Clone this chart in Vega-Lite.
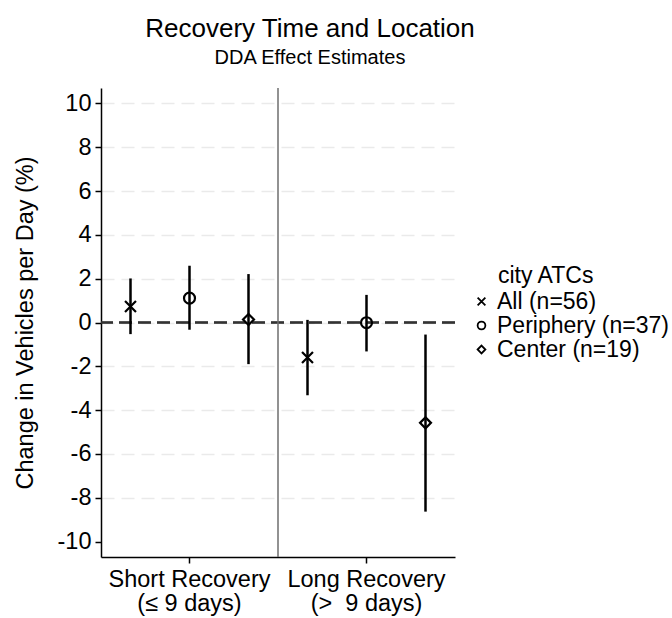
{
  "$schema": "https://vega.github.io/schema/vega-lite/v6.json",
  "autosize": {"type": "none"},
  "width": 354,
  "height": 469,
  "padding": {"left": 101, "top": 88, "right": 217, "bottom": 61},
  "background": "white",
  "config": {
    "font": "Liberation Sans",
    "view": {"stroke": null},
    "axis": {
      "domainColor": "black",
      "domainWidth": 1.5,
      "tickColor": "black",
      "tickWidth": 1.5,
      "tickSize": 6,
      "labelColor": "black",
      "labelFontSize": 23.5,
      "labelFont": "Liberation Sans",
      "titleFont": "Liberation Sans",
      "titleFontSize": 23.5,
      "titleFontWeight": "normal",
      "titleColor": "black"
    }
  },
  "title": {
    "text": "Recovery Time and Location",
    "subtitle": "DDA Effect Estimates",
    "font": "Liberation Sans",
    "subtitleFont": "Liberation Sans",
    "fontSize": 26,
    "subtitleFontSize": 20,
    "fontWeight": "normal",
    "color": "black",
    "subtitleColor": "black",
    "anchor": "middle",
    "dx": 32,
    "offset": 19,
    "subtitlePadding": 6
  },
  "data": {
    "values": [
      {"group": "Short Recovery", "series": "All (n=56)", "est": 0.73, "lo": -0.53, "hi": 2.01},
      {"group": "Short Recovery", "series": "Periphery (n=37)", "est": 1.11, "lo": -0.33, "hi": 2.59},
      {"group": "Short Recovery", "series": "Center (n=19)", "est": 0.14, "lo": -1.9, "hi": 2.21},
      {"group": "Long Recovery", "series": "All (n=56)", "est": -1.6, "lo": -3.32, "hi": 0.12},
      {"group": "Long Recovery", "series": "Periphery (n=37)", "est": -0.01, "lo": -1.32, "hi": 1.26},
      {"group": "Long Recovery", "series": "Center (n=19)", "est": -4.58, "lo": -8.63, "hi": -0.55}
    ]
  },
  "layer": [
    {
      "mark": {"type": "rule", "strokeDash": [13, 6], "color": "#333333", "strokeWidth": 1.5},
      "encoding": {
        "y": {
          "datum": 0,
          "type": "quantitative",
          "scale": {"domain": [-10.7, 10.7], "nice": false, "zero": false},
          "axis": {
            "title": "Change in Vehicles per Day (%)",
            "values": [-10, -8, -6, -4, -2, 0, 2, 4, 6, 8, 10],
            "labelExpr": "'' + datum.value",
            "grid": true,
            "gridColor": {"condition": {"test": "datum.value == -10", "value": "transparent"}, "value": "#eaeaea"},
            "gridDash": [13, 7],
            "gridWidth": 1.5,
            "labelPadding": 4,
            "titlePadding": 20
          }
        }
      }
    },
    {
      "data": {"values": [{"group": "Long Recovery"}]},
      "mark": {"type": "rule", "color": "#6e6e6e", "strokeWidth": 1.5},
      "encoding": {
        "x": {
          "field": "group",
          "type": "nominal",
          "bandPosition": 0,
          "scale": {"type": "band", "domain": ["Short Recovery", "Long Recovery"], "paddingInner": 0, "paddingOuter": 0},
          "axis": {
            "title": null,
            "labelAngle": 0,
            "labelExpr": "datum.value == 'Short Recovery' ? ['Short Recovery', '(≤ 9 days)'] : ['Long Recovery', '(>\u00a0 9 days)']",
            "labelLineHeight": 24,
            "labelPadding": 4,
            "grid": false
          }
        }
      }
    },
    {
      "mark": {"type": "rule", "color": "black", "strokeWidth": 2.5},
      "encoding": {
        "x": {
          "field": "group",
          "type": "nominal",
          "scale": {"type": "band", "domain": ["Short Recovery", "Long Recovery"], "paddingInner": 0, "paddingOuter": 0},
          "axis": {
            "title": null,
            "labelAngle": 0,
            "labelExpr": "datum.value == 'Short Recovery' ? ['Short Recovery', '(≤ 9 days)'] : ['Long Recovery', '(>\u00a0 9 days)']",
            "labelLineHeight": 24,
            "labelPadding": 4,
            "grid": false
          }
        },
        "xOffset": {
          "field": "series",
          "type": "nominal",
          "scale": {"type": "band", "domain": ["All (n=56)", "Periphery (n=37)", "Center (n=19)"], "paddingInner": 0, "paddingOuter": 0}
        },
        "y": {
          "field": "lo",
          "type": "quantitative",
          "scale": {"domain": [-10.7, 10.7], "nice": false, "zero": false},
          "axis": {"title": "Change in Vehicles per Day (%)"}
        },
        "y2": {"field": "hi"}
      }
    },
    {
      "mark": {"type": "point", "filled": false, "color": "black", "strokeWidth": 2.2, "opacity": 1},
      "encoding": {
        "x": {
          "field": "group",
          "type": "nominal",
          "scale": {"type": "band", "domain": ["Short Recovery", "Long Recovery"], "paddingInner": 0, "paddingOuter": 0},
          "axis": {
            "title": null,
            "labelAngle": 0,
            "labelExpr": "datum.value == 'Short Recovery' ? ['Short Recovery', '(≤ 9 days)'] : ['Long Recovery', '(>\u00a0 9 days)']",
            "labelLineHeight": 24,
            "labelPadding": 4,
            "grid": false
          }
        },
        "xOffset": {
          "field": "series",
          "type": "nominal",
          "scale": {"type": "band", "domain": ["All (n=56)", "Periphery (n=37)", "Center (n=19)"], "paddingInner": 0, "paddingOuter": 0}
        },
        "y": {
          "field": "est",
          "type": "quantitative",
          "scale": {"domain": [-10.7, 10.7], "nice": false, "zero": false},
          "axis": {"title": "Change in Vehicles per Day (%)"}
        },
        "shape": {
          "field": "series",
          "type": "nominal",
          "scale": {"domain": ["All (n=56)", "Periphery (n=37)", "Center (n=19)"], "range": ["M-1,-1L1,1M1,-1L-1,1", "circle", "diamond"]},
          "legend": {
            "orient": "none",
            "legendX": 397,
            "legendY": 177,
            "title": "city ATCs",
            "titleFont": "Liberation Sans",
            "titleFontSize": 23,
            "titleFontWeight": "normal",
            "titleColor": "black",
            "titlePadding": 2,
            "labelFont": "Liberation Sans",
            "labelFontSize": 23,
            "labelColor": "black",
            "labelLimit": 400,
            "labelOffset": 4,
            "symbolOffset": -28,
            "symbolSize": 60,
            "symbolStrokeWidth": 1.8,
            "symbolStrokeColor": "black",
            "rowPadding": 0
          }
        },
        "size": {"value": 120}
      }
    }
  ]
}
